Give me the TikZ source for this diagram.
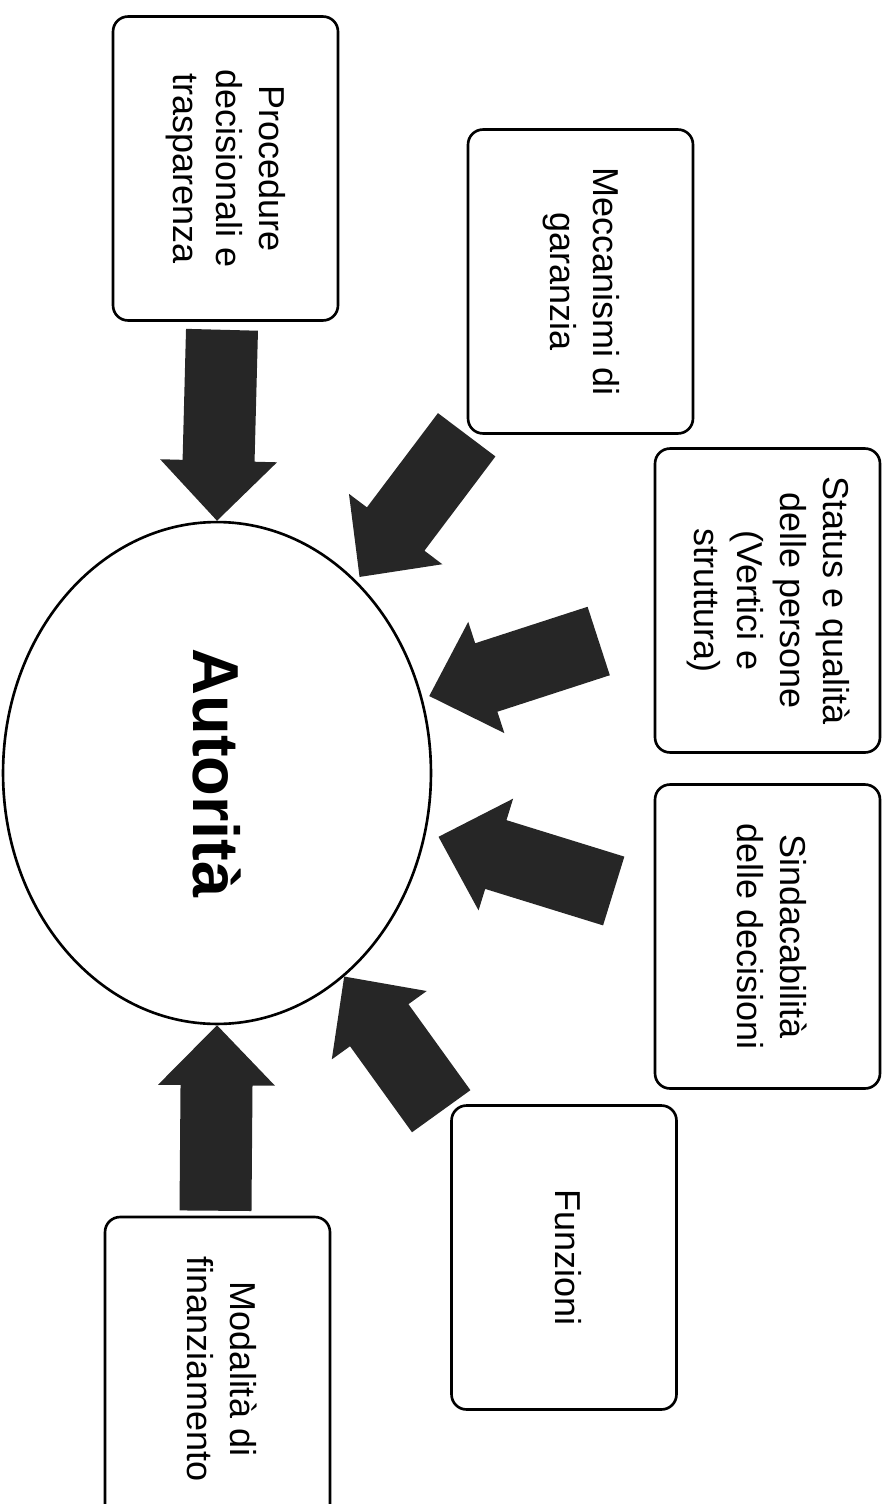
\documentclass[tikz,border=0pt]{standalone}
\usepackage{fontspec}
\usepackage{graphicx}
\setmainfont{Liberation Sans}
\usetikzlibrary{shapes.geometric,calc}

\definecolor{arrowfill}{HTML}{262626}

% rotated, centred lines of a box
\newcommand{\vlabel}[1]{\rotatebox{-90}{\begin{tabular}{@{}c@{}}#1\end{tabular}}}

% block arrow from tail #1 to tip #2
\newcommand{\bigarrow}[2]{%
  \coordinate (hb) at ($(#2)!1.2cm!(#1)$);
  \fill[arrowfill] ($(#1)!0.72cm!90:(#2)$) -- ($(hb)!0.72cm!90:(#2)$) -- ($(hb)!1.17cm!90:(#2)$) -- (#2)
    -- ($(hb)!1.17cm!-90:(#2)$) -- ($(hb)!0.72cm!-90:(#2)$) -- ($(#1)!0.72cm!-90:(#2)$) -- cycle;}

\begin{document}
\begin{tikzpicture}[x=0.02cm,y=-0.02cm]
\tikzstyle{every node}=[font=\fontsize{20.5}{24.5}\selectfont]
\tikzstyle{box}=[draw, line width=1.5pt, rounded corners=0.3cm, minimum width=4.5cm, minimum height=6.08cm, inner sep=0pt]

\useasboundingbox (0,0) rectangle (885,1504);
\clip (0,0) rectangle (885,1504);

% Draw the central node
\node[draw, ellipse, line width=1.5pt, minimum width=8.56cm, minimum height=10.04cm, inner sep=0pt,
  font=\fontsize{37}{40}\selectfont\bfseries] (aut) at (217,773) {\rotatebox{-90}{Autorità}};

% Draw the boxes
\node[box] (proc) at (225.5,168.5) {\vlabel{Procedure\\decisionali e\\trasparenza}};
\node[box] (mecc) at (580.5,281.5) {\vlabel{Meccanismi di\\garanzia}};
\node[box] (stat) at (767.5,600.5) {\vlabel{Status e qualità\\delle persone\\(Vertici e\\struttura)}};
\node[box] (sind) at (767.5,936.5) {\vlabel{Sindacabilità\\delle decisioni}};
\node[box] (funz) at (564,1257.5) {\vlabel{Funzioni}};
\node[box] (moda) at (217.5,1369) {\vlabel{Modalità di\\finanziamento}};

% Tails of the arrows
\coordinate (procT) at ([shift={(-3.5,8)}]proc.south);
\coordinate (meccT) at (mecc.south west);
\coordinate (statT) at ([shift={(-55,40.5)}]stat.west);
\coordinate (sindT) at ([shift={(-40,-45.5)}]sind.west);
\coordinate (funzT) at ([shift={(-9,7)}]funz.north west);
\coordinate (modaT) at ([shift={(-2,-5)}]moda.north);

% Tips of the arrows, on the ellipse
\coordinate (procH) at (aut.north);
\coordinate (meccH) at ($(aut.54)!0.1cm!(meccT)$);
\coordinate (statH) at ($(aut.20)!0.14cm!(statT)$);
\coordinate (sindH) at ($(aut.-16)!0.26cm!(sindT)$);
\coordinate (funzH) at (aut.-58);
\coordinate (modaH) at (aut.south);

% Draw the arrows
\bigarrow{procT}{procH}
\bigarrow{meccT}{meccH}
\bigarrow{statT}{statH}
\bigarrow{sindT}{sindH}
\bigarrow{funzT}{funzH}
\bigarrow{modaT}{modaH}

\end{tikzpicture}
\end{document}
